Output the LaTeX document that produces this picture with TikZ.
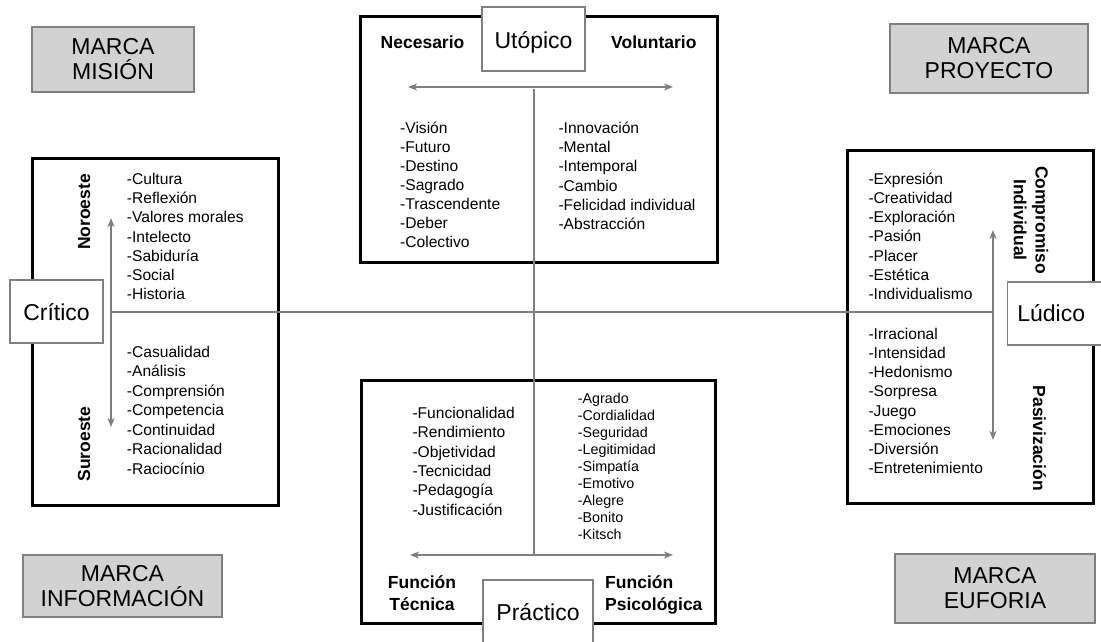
\documentclass[tikz,border=0pt]{standalone}
\usepackage{fontspec}
\setmainfont{Liberation Sans}
\usetikzlibrary{arrows.meta}
\definecolor{axisgray}{HTML}{7F7F7F}
\definecolor{boxgray}{HTML}{D2D2D2}
\definecolor{edgegray}{HTML}{808080}
\begin{document}
\begin{tikzpicture}[x=1pt,y=-1pt,
  mainbox/.style={draw=black, line width=3pt, inner sep=0pt},
  marca/.style={draw=edgegray, fill=boxgray, line width=1.2pt, inner sep=0pt, align=center, font=\fontsize{23}{25}\selectfont},
  titlebox/.style={draw=edgegray, fill=white, line width=1.2pt, inner sep=0pt, font=\fontsize{23}{27}\selectfont, text depth=0pt},
  items/.style={anchor=north west, inner sep=0pt, align=left},
  head/.style={inner sep=0pt, font=\bfseries\fontsize{17.5}{21.7}\selectfont},
  axis/.style={draw=axisgray, line width=1.3pt},
  dbl/.style={axis, {Stealth[length=9pt,width=7pt,inset=2.5pt]}-{Stealth[length=9pt,width=7pt,inset=2.5pt]}}
]
\useasboundingbox (0,0) rectangle (1101,642);

% main boxes
\node[mainbox, minimum width=357pt, minimum height=245pt] (topbox) at (538.5,139.5) {};
\node[mainbox, minimum width=246pt, minimum height=347pt] (leftbox) at (155,331.5) {};
\node[mainbox, minimum width=246pt, minimum height=353pt] (rightbox) at (970,326.5) {};
\node[mainbox, minimum width=354pt, minimum height=243pt] (botbox) at (538,501.5) {};

% axes
\coordinate (hl) at (111,312);
\coordinate (hr) at (993,312);
\coordinate (vt) at (534,89);
\coordinate (vb) at (534,555);
\coordinate (ta1) at (408,87);
\coordinate (ta2) at (673,87);
\coordinate (ba1) at (410,555);
\coordinate (ba2) at (673,555);
\coordinate (la1) at (111,218);
\coordinate (la2) at (111,427);
\coordinate (ra1) at (993,230);
\coordinate (ra2) at (993,440);
\draw[axis] (hl) -- (hr);
\draw[axis] (vt) -- (vb);
\draw[dbl] (ta1) -- (ta2);
\draw[dbl] (ba1) -- (ba2);
\draw[dbl] (la1) -- (la2);
\draw[dbl] (ra1) -- (ra2);

% title boxes
\node[titlebox, minimum width=103pt, minimum height=64pt, text height=19pt] (utopico) at (533.5,39) {Utópico};
\node[titlebox, minimum width=93pt, minimum height=63pt, text height=17pt] (critico) at (56.5,311.5) {Crítico};
\node[titlebox, anchor=west, minimum height=63pt, text width=80pt, inner xsep=9.7pt, align=left, text height=16.4pt] (ludico) at (1007,313.5) {Lúdico};
\node[titlebox, minimum width=110pt, minimum height=70pt, text height=10pt] (practico) at (538,615) {Práctico};

% corner boxes
\node[marca, minimum width=162pt, minimum height=65pt] (mision) at (113,59.5) {MARCA\\MISIÓN};
\node[marca, minimum width=198pt, minimum height=69pt] (proyecto) at (989,58.5) {MARCA\\PROYECTO};
\node[marca, minimum width=199pt, minimum height=62pt] (informacion) at (122.5,586) {MARCA\\INFORMACIÓN};
\node[marca, minimum width=200pt, minimum height=69pt] (euforia) at (995,588.5) {MARCA\\EUFORIA};

% headings
\node[head, anchor=base west] (necesario) at (380.5,48.5) {Necesario};
\node[head, anchor=base west] (voluntario) at (611,48.5) {Voluntario};
\node[head, align=center, anchor=north] (ftecnica) at (422,574.3) {\rule{0pt}{14pt}Función\\Técnica};
\node[head, align=left, anchor=north west] (fpsico) at (605,574.3) {\rule{0pt}{14pt}Función\\Psicológica};
\node[head, rotate=90, anchor=base] (noroeste) at (90,212) {Noroeste};
\node[head, rotate=90, anchor=base] (suroeste) at (90,444) {Suroeste};
\node[head, rotate=-90, align=center, anchor=north] (compromiso) at (1049.8,220) {\rule{0pt}{14pt}Compromiso\\Individual};
\node[head, rotate=-90, anchor=base] (pasivizacion) at (1033,438.3) {Pasivización};

% item lists
\node[items, font=\fontsize{15.6}{19}\selectfont] (tl) at (400,120.3) {\rule{0pt}{13pt}-Visión\\-Futuro\\-Destino\\-Sagrado\\-Trascendente\\-Deber\\-Colectivo};
\node[items, font=\fontsize{15.6}{19.2}\selectfont] (tr) at (558.3,120.3) {\rule{0pt}{13pt}-Innovación\\-Mental\\-Intemporal\\-Cambio\\-Felicidad individual\\-Abstracción};
\node[items, font=\fontsize{15.6}{19.2}\selectfont] (nw) at (126.7,171.3) {\rule{0pt}{13pt}-Cultura\\-Reflexión\\-Valores morales\\-Intelecto\\-Sabiduría\\-Social\\-Historia};
\node[items, font=\fontsize{15.6}{19.45}\selectfont] (sw) at (126.7,344.3) {\rule{0pt}{13pt}-Casualidad\\-Análisis\\-Comprensión\\-Competencia\\-Continuidad\\-Racionalidad\\-Raciocínio};
\node[items, font=\fontsize{15.6}{19.2}\selectfont] (ne) at (868.3,171) {\rule{0pt}{13pt}-Expresión\\-Creatividad\\-Exploración\\-Pasión\\-Placer\\-Estética\\-Individualismo};
\node[items, font=\fontsize{15.6}{19.2}\selectfont] (se) at (868.3,326) {\rule{0pt}{13pt}-Irracional\\-Intensidad\\-Hedonismo\\-Sorpresa\\-Juego\\-Emociones\\-Diversión\\-Entretenimiento};
\node[items, font=\fontsize{15.6}{19.3}\selectfont] (bl) at (412.3,405.3) {\rule{0pt}{13pt}-Funcionalidad\\-Rendimiento\\-Objetividad\\-Tecnicidad\\-Pedagogía\\-Justificación};
\node[items, font=\fontsize{14.3}{16.96}\selectfont] (br) at (577.7,390.3) {\rule{0pt}{13pt}-Agrado\\-Cordialidad\\-Seguridad\\-Legitimidad\\-Simpatía\\-Emotivo\\-Alegre\\-Bonito\\-Kitsch};
\end{tikzpicture}
\end{document}
